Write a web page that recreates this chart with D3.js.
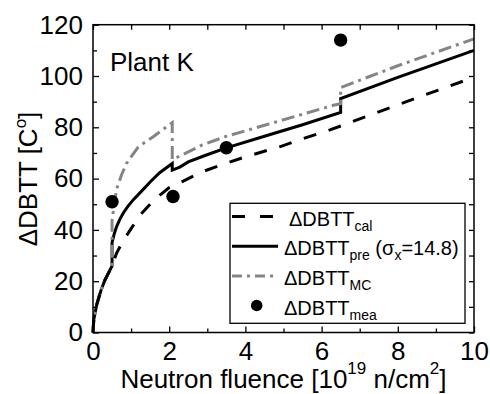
<!DOCTYPE html>
<html><head><meta charset="utf-8">
<script src="https://cdn.jsdelivr.net/npm/d3@7/dist/d3.min.js"></script>
<style>
html,body{margin:0;padding:0;background:#fff;}
svg{display:block;font-family:Arial,"Liberation Sans",sans-serif;}
</style></head>
<body><svg id="c" width="490" height="394"></svg>
<script>
// ---- data ----
const fluenceCal = [0,0.02,0.1,0.2,0.3,0.5,0.62,0.8,1.0,1.25,1.5,1.75,2.0,2.33,2.85,3.5,4.0,4.9,5.5,6.22,6.5,7.5,8.5,10];
const dbttCal    = [0,5,11,16,20,26,31,36,40.5,46,50,53.5,56.5,58.7,62.6,66,68.5,72.4,75.5,79,80.5,86,91.5,99.5];

const fluencePre = [0,0.02,0.1,0.2,0.3,0.5,0.5,0.56,0.62,0.7,0.8,0.92,1.06,1.3,1.5,1.75,2.08,2.08,2.28,2.5,2.94,3.5,4.5,5.5,6.5,6.5,8,10];
const dbttPre    = [0,5,11,16,20,26,35,38.6,41.3,44,46.7,49.3,51.8,55.5,58.7,62.3,65.9,63.3,64.5,66.5,69,72,76.5,81,85.8,91.2,99.5,110];

const fluenceMC  = [0,0.02,0.1,0.2,0.3,0.5,0.5,0.62,0.75,0.88,1.0,1.19,1.4,1.58,1.75,1.93,2.08,2.08,2.15,2.5,2.85,3.46,4.5,5.5,6.31,6.5,6.5,8,10];
const dbttMC     = [0,5,11,16,20,26,44,56,61.5,65.9,68.5,72.4,74.5,76.3,78.2,80.2,81.8,67.5,67.9,70.4,73,76.3,80.8,85.1,88.6,89.2,95.5,104,114.5];

const fluenceMea = [0.5,2.1,3.5,6.5];
const dbttMea    = [51,53,72,114];

const xTicks = [0,2,4,6,8,10];
const xMinor = [1,3,5,7,9];
const yTicks = [0,20,40,60,80,100,120];
const yMinor = [10,30,50,70,90,110];

// ---- layout ----
const svg = d3.select('#c');
const L = 93, R = 474, T = 24.7, B = 332.5;
const x = d3.scaleLinear().domain([0,10]).range([L,R]);
const y = d3.scaleLinear().domain([0,120]).range([B,T]);
const GRAY = '#858585';
const FS = 26;

function styleAxis(g){
  g.select('.domain').remove();
  g.selectAll('line').attr('stroke','#000').attr('stroke-width',1.3);
  g.selectAll('text').attr('font-size',FS).attr('fill','#000').attr('font-family','Arial,"Liberation Sans",sans-serif');
}

// axes (ticks inward)
svg.append('g').attr('transform',`translate(0,${B})`)
  .call(d3.axisBottom(x).tickValues(xTicks).tickSizeInner(-6).tickSizeOuter(0).tickPadding(9).tickFormat(d3.format('d'))).call(styleAxis);
svg.append('g').attr('transform',`translate(0,${B})`)
  .call(d3.axisBottom(x).tickValues(xMinor).tickSizeInner(-4).tickSizeOuter(0).tickFormat('')).call(styleAxis);
svg.append('g').attr('transform',`translate(0,${T})`)
  .call(d3.axisTop(x).tickValues(xTicks.concat(xMinor)).tickSizeInner(-5).tickSizeOuter(0).tickFormat('')).call(styleAxis);
svg.append('g').attr('transform',`translate(${L},0)`)
  .call(d3.axisLeft(y).tickValues(yTicks).tickSizeInner(-6).tickSizeOuter(0).tickPadding(10).tickFormat(d3.format('d'))).call(styleAxis);
svg.append('g').attr('transform',`translate(${L},0)`)
  .call(d3.axisLeft(y).tickValues(yMinor).tickSizeInner(-4).tickSizeOuter(0).tickFormat('')).call(styleAxis);
svg.append('g').attr('transform',`translate(${R},0)`)
  .call(d3.axisRight(y).tickValues(yTicks.concat(yMinor)).tickSizeInner(-5).tickSizeOuter(0).tickFormat('')).call(styleAxis);

// curves
const line = d3.line().x(d=>x(d[0])).y(d=>y(d[1]));
const zip = (a,b)=>a.map((v,i)=>[v,b[i]]);

svg.append('path').datum(zip(fluencePre,dbttPre)).attr('d',line)
  .attr('fill','none').attr('stroke','#000').attr('stroke-width',3);
svg.append('path').datum(zip(fluenceMC,dbttMC)).attr('d',line)
  .attr('fill','none').attr('stroke',GRAY).attr('stroke-width',3).attr('stroke-dasharray','13,5,3,5');
svg.append('path').datum(zip(fluenceCal,dbttCal)).attr('d',line)
  .attr('fill','none').attr('stroke','#000').attr('stroke-width',3).attr('stroke-dasharray','13,13');

svg.append('g').selectAll('circle').data(zip(fluenceMea,dbttMea)).join('circle')
  .attr('cx',d=>x(d[0])).attr('cy',d=>y(d[1])).attr('r',6.7).attr('fill','#000');

// frame
svg.append('rect').attr('x',L).attr('y',T).attr('width',R-L).attr('height',B-T)
  .attr('fill','none').attr('stroke','#000').attr('stroke-width',1.5);

// Plant K
svg.append('text').attr('x',110).attr('y',71).attr('font-size',FS).text('Plant K');

// axis titles
const xt = svg.append('text').attr('x',(L+R)/2).attr('y',387.5).attr('font-size',FS).attr('text-anchor','middle');
xt.append('tspan').text('Neutron fluence [10');
xt.append('tspan').attr('font-size',17).attr('dy',-14).text('19');
xt.append('tspan').attr('dy',14).text(' n/cm');
xt.append('tspan').attr('font-size',17).attr('dy',-14).text('2');
xt.append('tspan').attr('dy',14).text(']');

const yt = svg.append('text').attr('transform','translate(36.5,179) rotate(-90)').attr('font-size',FS).attr('text-anchor','middle');
yt.append('tspan').text('ΔDBTT [C');
yt.append('tspan').attr('font-size',17).attr('dy',-11).text('o');
yt.append('tspan').attr('dy',11).text(']');

// legend
const lg = svg.append('g');
lg.append('rect').attr('x',230).attr('y',203.3).attr('width',235).attr('height',120)
  .attr('fill','#fff').attr('stroke','#000').attr('stroke-width',1.3);
const rowY = [216.5,246.3,276,305.5];
const LFS = 20, SFS = 14;
lg.append('line').attr('x1',232).attr('x2',274).attr('y1',rowY[0]).attr('y2',rowY[0])
  .attr('stroke','#000').attr('stroke-width',3).attr('stroke-dasharray','13,15');
lg.append('line').attr('x1',232).attr('x2',278).attr('y1',rowY[1]).attr('y2',rowY[1])
  .attr('stroke','#000').attr('stroke-width',3);
lg.append('line').attr('x1',232).attr('x2',278).attr('y1',rowY[2]).attr('y2',rowY[2])
  .attr('stroke',GRAY).attr('stroke-width',3).attr('stroke-dasharray','10,5,3,5');
lg.append('circle').attr('cx',256.7).attr('cy',rowY[3]).attr('r',5.8).attr('fill','#000');

function legText(xp, yp, parts){
  const t = lg.append('text').attr('x',xp).attr('y',yp).attr('font-size',LFS);
  let shift = 0;
  parts.forEach(p=>{
    const sub = p[1];
    const target = sub ? 5 : 0;
    const ts = t.append('tspan').attr('dy',target-shift).text(p[0]);
    if(sub) ts.attr('font-size',SFS);
    shift = target;
  });
}
legText(289, rowY[0]+9.5, [['ΔDBTT',0],['cal',1]]);
legText(284, rowY[1]+9, [['ΔDBTT',0],['pre',1],[' (σ',0],['x',1],['=14.8)',0]]);
legText(284, rowY[2]+9, [['ΔDBTT',0],['MC',1]]);
legText(284, rowY[3]+9, [['ΔDBTT',0],['mea',1]]);
</script></body></html>
